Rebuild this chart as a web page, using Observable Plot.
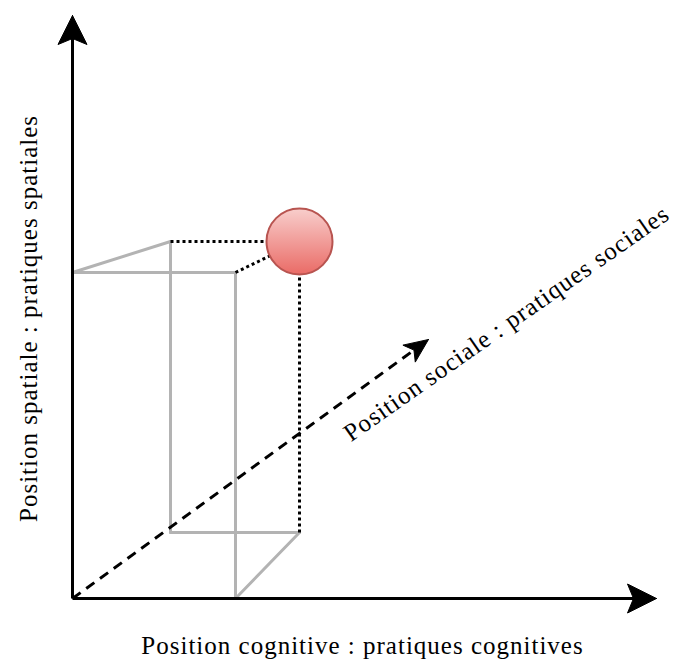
<!DOCTYPE html>
<html><head><meta charset="utf-8">
<script src="https://cdn.jsdelivr.net/npm/d3@7"></script>
<script src="https://cdn.jsdelivr.net/npm/@observablehq/plot@0.6"></script>
<style>body{margin:0;background:#fff}</style>
</head><body><div id="chart"></div>
<script>
// Diagram coordinates: origin at the meeting point of the axes, y upward.
const axisNames = ["cognitive", "spatial", "social"];
const axisTipX = [584, 0, 356];
const axisTipY = [0, 583, 259];
const axisLabels = [
  "Position cognitive : pratiques cognitives",
  "Position spatiale : pratiques spatiales",
  "Position sociale : pratiques sociales"
];
// grey construction box edges
const boxX1 = [0, 0, 98, 163, 98, 163];
const boxY1 = [326, 326, 357, 326, 66, 0];
const boxX2 = [163, 98, 98, 163, 227, 227];
const boxY2 = [326, 357, 66, 0, 66, 66];
// dotted projections to the point
const projX1 = [98, 163, 227];
const projY1 = [357, 326, 357];
const projX2 = [227, 227, 227];
const projY2 = [357, 357, 66];
// the positioned point
const pointX = [227];
const pointY = [357];

const boxEdges = boxX1.map((x1, i) => ({x1, y1: boxY1[i], x2: boxX2[i], y2: boxY2[i]}));
const projections = projX1.map((x1, i) => ({x1, y1: projY1[i], x2: projX2[i], y2: projY2[i]}));
const points = pointX.map((x, i) => ({x, y: pointY[i]}));

const headSpec = {cognitive: [29, 14.5, 23], spatial: [29, 14.5, 23], social: [24, 10.5, 18]};
const shafts = [], heads = [];
axisNames.forEach((name, i) => {
  const tx = axisTipX[i], ty = axisTipY[i];
  const L = Math.hypot(tx, ty), ux = tx / L, uy = ty / L, px = -uy, py = ux;
  const [len, half, notch] = headSpec[name];
  const bx = tx - ux * len, by = ty - uy * len;
  const nx = tx - ux * notch, ny = ty - uy * notch;
  shafts.push({axis: name, x1: 0, y1: 0, x2: nx + ux * 2, y2: ny + uy * 2, dashed: name === "social"});
  [[tx, ty], [bx + px * half, by + py * half], [nx, ny], [bx - px * half, by - py * half], [tx, ty]]
    .forEach(([x, y]) => heads.push({axis: name, x, y}));
});

const gradientDefs = () => {
  const defs = d3.create("svg:defs");
  const g = defs.append("linearGradient").attr("id", "ballGrad")
    .attr("x1", 0).attr("y1", 0).attr("x2", 0).attr("y2", 1);
  g.append("stop").attr("offset", "0%").attr("stop-color", "#f8cecc");
  g.append("stop").attr("offset", "100%").attr("stop-color", "#ea6b66");
  return defs.node();
};

const font = "Liberation Serif";
const fs = 25;

const chart = Plot.plot({
  width: 675,
  height: 664,
  margin: 0,
  style: {background: "#fff", letterSpacing: "1px"},
  x: {domain: [-72, 603], axis: null},
  y: {domain: [-66, 598], axis: null},
  marks: [
    gradientDefs,
    Plot.link(boxEdges, {x1: "x1", y1: "y1", x2: "x2", y2: "y2", stroke: "#b3b3b3", strokeWidth: 3, strokeLinecap: "round"}),
    Plot.link(projections, {x1: "x1", y1: "y1", x2: "x2", y2: "y2", stroke: "#000", strokeWidth: 3, strokeDasharray: "3 3"}),
    Plot.link(shafts.filter(d => !d.dashed), {x1: "x1", y1: "y1", x2: "x2", y2: "y2", stroke: "#000", strokeWidth: 3}),
    Plot.link(shafts.filter(d => d.dashed), {x1: "x1", y1: "y1", x2: "x2", y2: "y2", stroke: "#000", strokeWidth: 3, strokeDasharray: "10 7"}),
    Plot.line(heads, {x: "x", y: "y", z: "axis", fill: "#000", stroke: "#000", strokeWidth: 1, curve: "linear"}),
    Plot.dot(points, {x: "x", y: "y", r: 33, fill: "url(#ballGrad)", stroke: "#b85450", strokeWidth: 2}),
    Plot.text([axisLabels[0]], {x: () => 290, y: () => -47, text: d => d, fontSize: fs, fontFamily: font, fill: "#000", textAnchor: "middle"}),
    Plot.text([axisLabels[1]], {x: () => -44, y: () => 280, text: d => d, fontSize: fs, fontFamily: font, fill: "#000", textAnchor: "middle", rotate: -90}),
    Plot.text([axisLabels[2]], {x: () => 434, y: () => 275, text: d => d, fontSize: fs, fontFamily: font, fill: "#000", textAnchor: "middle", rotate: -35})
  ]
});
document.getElementById("chart").appendChild(chart);
</script>
</body></html>
